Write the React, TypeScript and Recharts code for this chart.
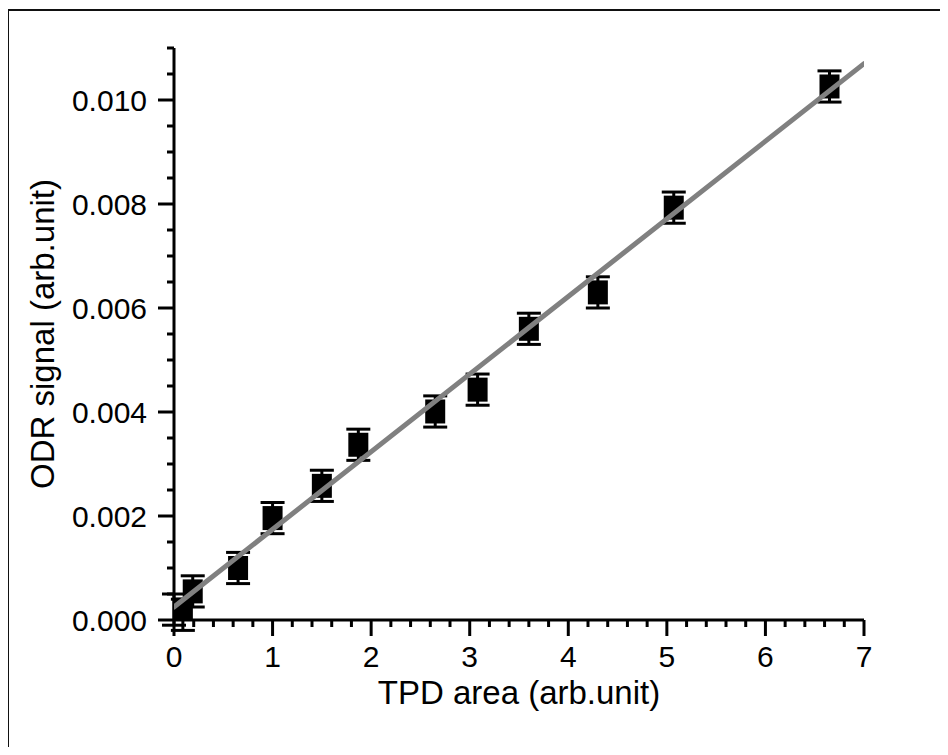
import React from 'react';
import { ScatterChart, Scatter, XAxis, YAxis, ErrorBar } from 'recharts';

// ---- data ----
const tpdArea = [0.0, 0.09, 0.19, 0.65, 1.0, 1.5, 1.87, 2.65, 3.08, 3.6, 4.3, 5.07, 6.65];
const odrSignal = [0.0002, 0.0001, 0.00055, 0.001, 0.00196, 0.00258, 0.00337, 0.00401, 0.00443, 0.0056, 0.0063, 0.00793, 0.01026];
const odrError = [0.0003, 0.0003, 0.0003, 0.0003, 0.0003, 0.0003, 0.0003, 0.0003, 0.0003, 0.0003, 0.0003, 0.0003, 0.0003];
const fitX = [0, 7];
const fitY = [0.00025, 0.0107];

const xMajorTicks = [0, 1, 2, 3, 4, 5, 6, 7];
const yMajorTicks = [0, 0.002, 0.004, 0.006, 0.008, 0.01];
const xAllTicks = Array.from({ length: 36 }, (_, i) => Math.round(i * 2) / 10);
const yAllTicks = Array.from({ length: 23 }, (_, i) => Math.round(i * 5) / 10000);

const points = tpdArea.map((x, i) => ({ x, y: odrSignal[i], err: odrError[i] }));
const fitLine = fitX.map((x, i) => ({ x, y: fitY[i] }));

const FONT = '"Liberation Sans", Arial, sans-serif';

const isMajor = (v: number, majors: number[]) => majors.some((m) => Math.abs(m - v) < 1e-9);

const XTick = (props: any) => {
  const { x, y, payload } = props;
  const major = isMajor(payload.value, xMajorTicks);
  return (
    <g>
      <line x1={x} x2={x} y1={y} y2={y + (major ? 16 : 7)} stroke="#000" strokeWidth={3} />
      {major && (
        <text x={x} y={y + 47} textAnchor="middle" fontSize={30} fontFamily={FONT} fill="#000">
          {String(payload.value)}
        </text>
      )}
    </g>
  );
};

const YTick = (props: any) => {
  const { x, y, payload } = props;
  const major = isMajor(payload.value, yMajorTicks);
  return (
    <g>
      <line x1={x} x2={x - (major ? 16 : 7)} y1={y} y2={y} stroke="#000" strokeWidth={3} />
      {major && (
        <text x={x - 27} y={y + 10.8} textAnchor="end" fontSize={30} fontFamily={FONT} fill="#000">
          {payload.value.toFixed(3)}
        </text>
      )}
    </g>
  );
};

const Square = (props: any) => {
  const { cx, cy } = props;
  if (cx == null || cy == null) return <g />;
  return <rect x={cx - 10} y={cy - 12} width={20} height={24} fill="#000" />;
};

const NoDot = () => <g />;

const XTitle = (props: any) => {
  const vb = props.viewBox || {};
  return (
    <text x={vb.x + vb.width / 2} y={vb.y + 84} textAnchor="middle" fontSize={33} fontFamily={FONT} fill="#000">
      TPD area (arb.unit)
    </text>
  );
};

const YTitle = (props: any) => {
  const vb = props.viewBox || {};
  const cx = 34;
  const cy = vb.y + vb.height / 2;
  return (
    <text
      x={cx}
      y={cy}
      transform={`rotate(-90, ${cx}, ${cy})`}
      textAnchor="middle"
      dominantBaseline="central"
      fontSize={33}
      fontFamily={FONT}
      fill="#000"
    >
      ODR signal (arb.unit)
    </text>
  );
};

export default function App() {
  return (
    <div style={{ position: 'relative', width: 940, height: 739 }}>
      <style>{'html,body{overflow:hidden;}'}</style>
      <div
        style={{
          position: 'absolute',
          left: -1,
          top: 1,
          width: 941,
          height: 800,
          border: '2px solid #111',
          boxSizing: 'border-box',
        }}
      />
      <div style={{ position: 'absolute', left: 0, top: 0 }}>
        <ScatterChart width={940} height={739} margin={{ top: 40, right: 84, left: 0, bottom: 27 }}>
          <XAxis
            type="number"
            dataKey="x"
            domain={[0, 7]}
            ticks={xAllTicks}
            interval={0}
            tickSize={0}
            tickMargin={0}
            tickLine={false}
            tick={<XTick />}
            axisLine={{ stroke: '#000', strokeWidth: 3 }}
            height={100}
            allowDataOverflow
            label={<XTitle />}
          />
          <YAxis
            type="number"
            dataKey="y"
            domain={[0, 0.011]}
            ticks={yAllTicks}
            interval={0}
            tickSize={0}
            tickMargin={0}
            tickLine={false}
            tick={<YTick />}
            axisLine={{ stroke: '#000', strokeWidth: 3 }}
            width={166}
            allowDataOverflow
            label={<YTitle />}
          />
          <Scatter data={points} shape={<Square />} isAnimationActive={false}>
            <ErrorBar dataKey="err" direction="y" width={12} stroke="#000" strokeWidth={3} isAnimationActive={false} />
          </Scatter>
          <Scatter
            data={fitLine}
            line={{ stroke: '#808080', strokeWidth: 5, strokeLinecap: 'round' }}
            shape={<NoDot />}
            isAnimationActive={false}
          />
        </ScatterChart>
      </div>
    </div>
  );
}
